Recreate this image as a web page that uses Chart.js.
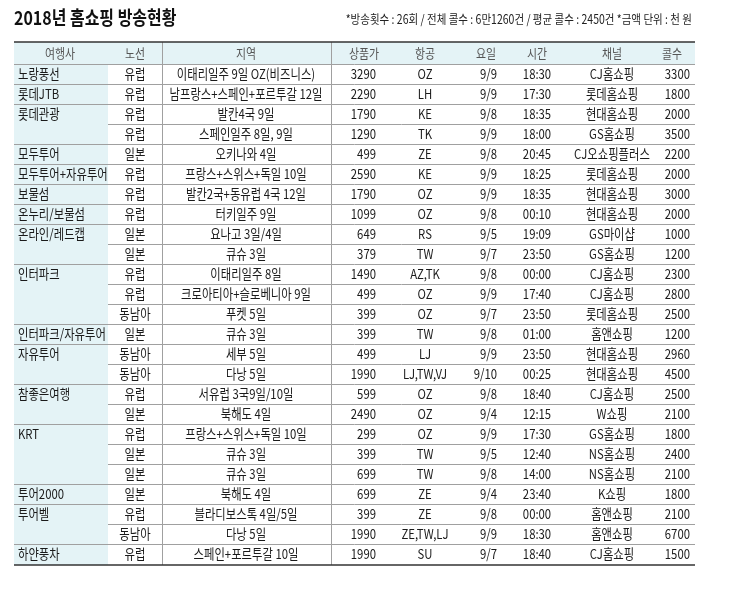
<!DOCTYPE html>
<html>
<head>
<meta charset="utf-8">
<script src="https://cdn.jsdelivr.net/npm/chart.js@4"></script>
<style>
  body { margin: 0; background: #fff; }
  #wrap { width: 729px; height: 590px; }
</style>
</head>
<body>
<div id="wrap"><canvas id="tabela"></canvas></div>
<script>
const titulo = "2018년 홈쇼핑 방송현황"
const nota = "*방송횟수 : 26회 / 전체 콜수 : 6만1260건 / 평균 콜수 : 2450건 *금액 단위 : 천 원"
const cabecalho = ["여행사", "노선", "지역", "상품가", "항공", "요일", "시간", "채널", "콜수"]

const agencias = ["노랑풍선", "롯데JTB", "롯데관광", "", "모두투어", "모두투어+자유투어", "보물섬", "온누리/보물섬", "온라인/레드캡", "", "인터파크", "", "", "인터파크/자유투어", "자유투어", "", "참좋은여행", "", "KRT", "", "", "투어2000", "투어벨", "", "하얀풍차"]
const rotas = ["유럽", "유럽", "유럽", "유럽", "일본", "유럽", "유럽", "유럽", "일본", "일본", "유럽", "유럽", "동남아", "일본", "동남아", "동남아", "유럽", "일본", "유럽", "일본", "일본", "일본", "유럽", "동남아", "유럽"]
const regioes = ["이태리일주 9일 OZ(비즈니스)", "남프랑스+스페인+포르투갈 12일", "발칸4국 9일", "스페인일주 8일, 9일", "오키나와 4일", "프랑스+스위스+독일 10일", "발칸2국+동유럽 4국 12일", "터키일주 9일", "요나고 3일/4일", "큐슈 3일", "이태리일주 8일", "크로아티아+슬로베니아 9일", "푸켓 5일", "큐슈 3일", "세부 5일", "다낭 5일", "서유럽 3국9일/10일", "북해도 4일", "프랑스+스위스+독일 10일", "큐슈 3일", "큐슈 3일", "북해도 4일", "블라디보스톡 4일/5일", "다낭 5일", "스페인+포르투갈 10일"]
const precos = [3290, 2290, 1790, 1290, 499, 2590, 1790, 1099, 649, 379, 1490, 499, 399, 399, 499, 1990, 599, 2490, 299, 399, 699, 699, 399, 1990, 1990]
const aereas = ["OZ", "LH", "KE", "TK", "ZE", "KE", "OZ", "OZ", "RS", "TW", "AZ,TK", "OZ", "OZ", "TW", "LJ", "LJ,TW,VJ", "OZ", "OZ", "OZ", "TW", "TW", "ZE", "ZE", "ZE,TW,LJ", "SU"]
const dias = ["9/9", "9/9", "9/8", "9/9", "9/8", "9/9", "9/9", "9/8", "9/5", "9/7", "9/8", "9/9", "9/7", "9/8", "9/9", "9/10", "9/8", "9/4", "9/9", "9/5", "9/8", "9/4", "9/8", "9/9", "9/7"]
const horas = ["18:30", "17:30", "18:35", "18:00", "20:45", "18:25", "18:35", "00:10", "19:09", "23:50", "00:00", "17:40", "23:50", "01:00", "23:50", "00:25", "18:40", "12:15", "17:30", "12:40", "14:00", "23:40", "00:00", "18:30", "18:40"]
const canais = ["CJ홈쇼핑", "롯데홈쇼핑", "현대홈쇼핑", "GS홈쇼핑", "CJ오쇼핑플러스", "롯데홈쇼핑", "현대홈쇼핑", "현대홈쇼핑", "GS마이샵", "GS홈쇼핑", "CJ홈쇼핑", "CJ홈쇼핑", "롯데홈쇼핑", "홈앤쇼핑", "현대홈쇼핑", "현대홈쇼핑", "CJ홈쇼핑", "W쇼핑", "GS홈쇼핑", "NS홈쇼핑", "NS홈쇼핑", "K쇼핑", "홈앤쇼핑", "홈앤쇼핑", "CJ홈쇼핑"]
const chamadas = [3300, 1800, 2000, 3500, 2200, 2000, 3000, 2000, 1000, 1200, 2300, 2800, 2500, 1200, 2960, 4500, 2500, 2100, 1800, 2400, 2100, 1800, 2100, 6700, 1500]

// colunas: posição x e alinhamento
const colunas = [
    { x: 18, al: "left", hx: 60 },
    { x: 135, al: "center", hx: 135 },
    { x: 246, al: "center", hx: 246 },
    { x: 376, al: "right", hx: 364 },
    { x: 425, al: "center", hx: 425 },
    { x: 497, al: "right", hx: 486 },
    { x: 537, al: "center", hx: 537 },
    { x: 612, al: "center", hx: 612 },
    { x: 690, al: "right", hx: 672 }
]

const fonte = '"Noto Sans CJK KR", "Noto Sans", sans-serif'

function texto(ctx, s, x, y, al, tam, peso) {
    ctx.save()
    ctx.font = (peso || "normal") + " " + tam + "px " + fonte
    ctx.textBaseline = "middle"
    ctx.textAlign = al
    ctx.translate(x, y)
    ctx.scale(0.84, 1)
    ctx.fillText(s, 0, 0)
    ctx.restore()
}

const desenhaTabela = {
    id: "desenhaTabela",
    afterDraw(chart) {
        const ctx = chart.ctx
        const sx = chart.scales.x
        const sy = chart.scales.y
        const esq = sx.getPixelForValue(14)
        const dir = sx.getPixelForValue(695)
        const n = agencias.length
        const topo = sy.getPixelForValue(-1.6)
        const fundo = sy.getPixelForValue(n - 0.45)

        // fundo azul do cabeçalho e da primeira coluna
        ctx.fillStyle = "#e4f3f6"
        ctx.fillRect(esq, topo, dir - esq, sy.getPixelForValue(-0.5) - topo)
        ctx.fillRect(esq, topo, sx.getPixelForValue(108) - esq, fundo - topo)

        // linhas horizontais
        ctx.strokeStyle = "#a0a0a0"
        ctx.lineWidth = 1
        for (let i = 0; i < n; i++) {
            const y = Math.round(sy.getPixelForValue(i - 0.5)) + 0.5
            const x0 = agencias[i] !== "" ? esq : sx.getPixelForValue(108)
            ctx.beginPath(); ctx.moveTo(x0, y); ctx.lineTo(dir, y); ctx.stroke()
        }
        // linhas verticais
        ;[162, 331].forEach(v => {
            const x = Math.round(sx.getPixelForValue(v)) + 0.5
            ctx.beginPath(); ctx.moveTo(x, topo); ctx.lineTo(x, fundo); ctx.stroke()
        })
        ctx.strokeStyle = "#333"
        ctx.lineWidth = 1.5
        ;[topo, fundo].forEach(y => {
            ctx.beginPath(); ctx.moveTo(esq, y); ctx.lineTo(dir, y); ctx.stroke()
        })

        // título e nota
        ctx.fillStyle = "#111"
        texto(ctx, titulo, sx.getPixelForValue(14), sy.getPixelForValue(-2.8), "left", 19, "bold")
        ctx.fillStyle = "#222"
        texto(ctx, nota, sx.getPixelForValue(692), sy.getPixelForValue(-2.75), "right", 12.5)

        // cabeçalho
        ctx.fillStyle = "#555"
        cabecalho.forEach((h, j) => {
            texto(ctx, h, sx.getPixelForValue(colunas[j].hx), sy.getPixelForValue(-1.05), "center", 13)
        })

        // linhas de dados
        ctx.fillStyle = "#1a1a1a"
        for (let i = 0; i < n; i++) {
            const cel = [agencias[i], rotas[i], regioes[i], String(precos[i]), aereas[i], dias[i], horas[i], canais[i], String(chamadas[i])]
            const y = sy.getPixelForValue(i)
            cel.forEach((c, j) => {
                if (c !== "") texto(ctx, c, sx.getPixelForValue(colunas[j].x), y, colunas[j].al, 13.5)
            })
        }
    }
}

new Chart(document.getElementById("tabela"), {
    type: "scatter",
    data: { datasets: [{ data: [] }] },
    options: {
        responsive: true,
        maintainAspectRatio: false,
        animation: false,
        layout: { padding: 0 },
        plugins: { legend: { display: false }, tooltip: { enabled: false } },
        scales: {
            x: { type: "linear", min: 0, max: 729, display: false },
            y: { type: "linear", min: -3.7, max: 25.8, reverse: true, display: false }
        }
    },
    plugins: [desenhaTabela]
})
</script>
</body>
</html>
